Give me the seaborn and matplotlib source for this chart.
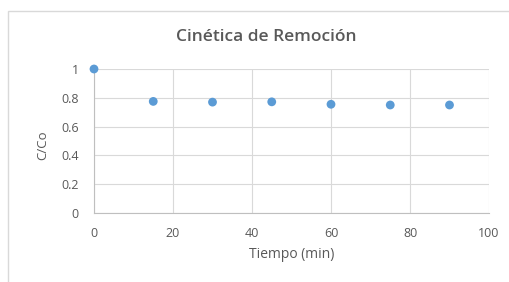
import matplotlib
matplotlib.use("Agg")
import matplotlib.pyplot as plt
import seaborn as sns
import pandas as pd
from matplotlib.patches import Rectangle

tiempo = [0, 15, 30, 45, 60, 75, 90]
c_co = [1.0, 0.775, 0.77, 0.772, 0.755, 0.75, 0.75]
x_ticks = [0, 20, 40, 60, 80, 100]
y_ticks = [0, 0.2, 0.4, 0.6, 0.8, 1]
y_labels = ["0", "0.2", "0.4", "0.6", "0.8", "1"]

sns.set_style("white")
plt.rcParams['font.family'] = ['Open Sans', 'DejaVu Sans']

df = pd.DataFrame({"Tiempo": tiempo, "C/Co": c_co})

fig = plt.figure(figsize=(5.10, 2.82), dpi=100)
ax = fig.add_axes([94/510, 1-213/282, (489-94)/510, (213-69)/282])

grid_c = "#d9d9d9"
text_c = "#595959"

sns.scatterplot(data=df, x="Tiempo", y="C/Co", ax=ax, color="#5b9bd5",
                s=40, edgecolor="none", zorder=3, clip_on=False)

ax.set_xlim(0, 100)
ax.set_ylim(0, 1)
ax.set_xticks(x_ticks)
ax.set_yticks(y_ticks)
ax.set_yticklabels(y_labels)
ax.grid(True, color=grid_c, linewidth=0.8)
ax.set_axisbelow(True)
for s in ["top", "right"]:
    ax.spines[s].set_visible(False)
for s in ["left", "bottom"]:
    ax.spines[s].set_color("#bfbfbf")
    ax.spines[s].set_linewidth(0.8)
ax.tick_params(axis="x", length=0, labelsize=9, colors=text_c, pad=10)
ax.tick_params(axis="y", length=0, labelsize=9, colors=text_c, pad=11)
ax.set_xlabel("Tiempo (min)", fontsize=10, color=text_c, va="center")
ax.xaxis.set_label_coords(0.5, (213-255)/144)
ax.set_ylabel("C/Co", fontsize=9.5, color=text_c, va="center")
ax.yaxis.set_label_coords((43-94)/395, (213-145)/144)
fig.text(266/510, 1-37/282, "Cinética de Remoción", fontsize=12.5,
         fontweight="semibold", color=text_c, ha="center", va="center")

fig.patches.append(Rectangle((8/510, -0.1), 1, 1.1-11/282, transform=fig.transFigure,
                             fill=False, edgecolor="#d9d9d9", linewidth=1))

fig.savefig("out.png", dpi=100)
